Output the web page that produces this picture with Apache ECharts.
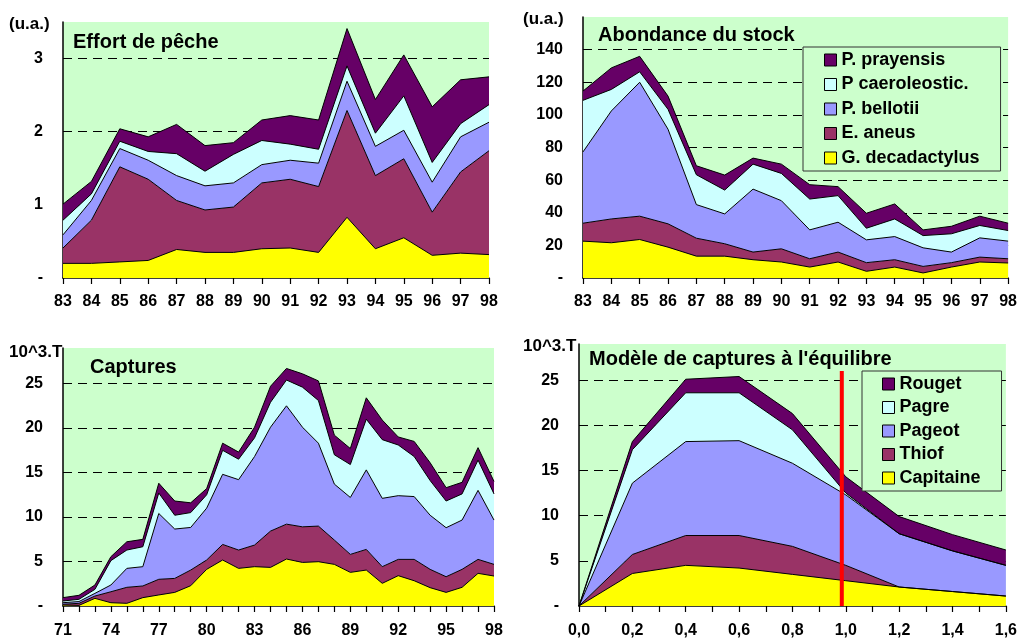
<!DOCTYPE html>
<html>
<head>
<meta charset="utf-8">
<script src="https://cdn.jsdelivr.net/npm/echarts@6/dist/echarts.min.js"></script>
<style>
  html, body { margin: 0; padding: 0; background: #fff; }
  #chart { width: 1020px; height: 642px; }
</style>
</head>
<body>
<div id="chart"></div>
<script>
// --- data ---
const years8398 = ['83','84','85','86','87','88','89','90','91','92','93','94','95','96','97','98'];
const years7198 = ['71','72','73','74','75','76','77','78','79','80','81','82','83','84','85','86','87','88','89','90','91','92','93','94','95','96','97','98'];
const effortX = [0, 0.2, 0.4, 0.6, 0.8, 1.0, 1.2, 1.4, 1.6];

const speciesNames = ['G. decadactylus', 'E. aneus', 'P. bellotii', 'P caeroleostic.', 'P. prayensis'];
const modelNames = ['Capitaine', 'Thiof', 'Pageot', 'Pagre', 'Rouget'];
const colors = ['#FFFF00', '#993366', '#9999FF', '#CCFFFF', '#660066'];

// Effort de pêche (u.a.)
const effortDecadactylus = [0.20,0.20,0.22,0.24,0.39,0.35,0.35,0.40,0.41,0.35,0.83,0.40,0.55,0.31,0.34,0.32];
const effortAneus        = [0.21,0.59,1.30,1.11,0.67,0.58,0.62,0.90,0.94,0.90,1.46,1.00,1.08,0.59,1.11,1.42];
const effortBellotii     = [0.18,0.27,0.25,0.26,0.34,0.33,0.33,0.25,0.26,0.32,0.40,0.40,0.39,0.41,0.48,0.39];
const effortCaeroleostic = [0.20,0.09,0.10,0.12,0.30,0.20,0.39,0.33,0.22,0.19,0.21,0.18,0.47,0.27,0.18,0.24];
const effortPrayensis    = [0.22,0.17,0.17,0.20,0.40,0.35,0.16,0.28,0.39,0.40,0.51,0.46,0.56,0.76,0.60,0.38];

// Abondance du stock (u.a.)
const stockDecadactylus = [22.6,21.6,23.6,18.9,13.4,13.4,11.2,9.8,6.7,9.8,4.1,6.7,3.1,6.7,9.8,9.2];
const stockAneus        = [11.0,14.6,14.3,14.3,11.0,7.6,4.7,8.1,5.1,6.1,5.3,4.5,4.0,2.7,3.0,2.6];
const stockBellotii     = [43.7,66.2,82.1,58.0,20.6,18.3,38.6,29.5,17.7,18.3,14.0,14.2,11.4,6.5,11.8,10.8];
const stockCaeroleostic = [31.6,13.2,6.4,12.2,18.3,14.6,15.3,16.7,18.9,16.3,7.1,10.8,7.5,11.2,7.6,6.5];
const stockPrayensis    = [5.7,13.2,9.5,8.1,5.5,9.2,3.7,5.7,8.8,5.5,9.2,9.2,3.5,4.6,5.7,4.5];

// Captures (10^3.T)
const catchDecadactylus = [0.10,0.07,0.86,0.37,0.30,0.94,1.24,1.53,2.28,4.12,5.17,4.23,4.42,4.34,5.28,4.90,4.98,4.68,3.78,4.04,2.55,3.41,2.84,2.06,1.53,2.10,3.67,3.37];
const catchAneus        = [0.10,0.23,0.26,1.23,1.80,1.31,1.76,1.57,1.76,1.05,1.75,2.06,2.43,4.08,3.92,4.00,4.00,2.73,2.02,2.32,1.87,1.83,2.40,2.06,1.76,2.02,1.57,1.31];
const catchBellotii     = [0.17,0.20,0.30,0.76,2.13,2.17,7.40,5.55,4.79,5.83,7.88,7.91,9.95,11.68,13.30,11.20,9.32,6.29,6.40,8.94,7.68,7.16,7.06,6.08,5.51,5.54,7.76,4.98];
const catchCaeroleostic = [0.19,0.25,0.45,2.74,2.06,2.24,2.30,1.55,1.67,1.50,2.70,2.30,2.10,2.80,2.90,4.50,4.80,3.30,3.70,5.70,6.60,5.70,4.50,3.90,3.00,2.94,3.40,2.94];
const catchPrayensis    = [0.38,0.45,0.49,0.44,0.93,0.83,1.10,1.60,1.10,0.70,0.80,0.80,1.20,1.80,1.30,1.50,2.20,2.20,1.80,2.40,2.20,0.90,1.70,2.00,1.50,1.30,1.40,1.40];

// Modèle de captures à l'équilibre (10^3.T)
const modelCapitaine = [0,3.6,4.5,4.2,3.5,2.8,2.1,1.6,1.1];
const modelThiof     = [0,2.1,3.3,3.6,3.1,1.7,0,0,0];
const modelPageot    = [0,7.9,10.4,10.5,9.2,7.8,5.9,4.5,3.4];
const modelPagre     = [0,3.7,5.4,5.3,3.7,0.2,0,0,0];
const modelRouget    = [0,0.9,1.5,1.8,1.8,1.8,1.9,1.8,1.7];
const currentEffort = [[0.985, 0], [0.985, 26]];

// --- chart ---
const FONT = '"Liberation Sans", Arial, sans-serif';

function areaSeries(name, color, data, xi, yi) {
  return {
    type: 'line', name: name, data: data,
    xAxisIndex: xi, yAxisIndex: yi, stack: 'st' + yi,
    symbol: 'none', showSymbol: false,
    lineStyle: { color: '#000', width: 1 },
    itemStyle: { color: color },
    areaStyle: { color: color, opacity: 1 },
    emphasis: { disabled: true },
    silent: true
  };
}

function xCat(idx, data, labelInterval, margin) {
  return {
    type: 'category', gridIndex: idx, data: data, boundaryGap: false, position: 'bottom',
    axisLine: { lineStyle: { color: '#000', width: 1.5 } },
    axisTick: { show: true, interval: 0, length: 6, lineStyle: { color: '#000', width: 1.2 } },
    axisLabel: { interval: labelInterval, color: '#000', fontWeight: 'bold', fontSize: 16, fontFamily: FONT, margin: margin },
    splitLine: { show: false }
  };
}

function yVal(idx, max, interval) {
  return {
    type: 'value', gridIndex: idx, min: 0, max: max, interval: interval,
    axisLine: { show: true, lineStyle: { color: '#000', width: 1.5 } },
    axisTick: { show: false },
    axisLabel: {
      color: '#000', fontWeight: 'bold', fontSize: 16, fontFamily: FONT, margin: 20,
      showMaxLabel: false,
      formatter: function (v) {
        if (v === 0) return '-';
        return (Math.abs(v / interval - Math.round(v / interval)) < 1e-6) ? String(v) : '';
      }
    },
    splitLine: { show: true, showMinLine: false, showMaxLine: false, lineStyle: { color: '#000', width: 1.2, type: [9, 6] } }
  };
}

function txt(text, x, y, size) {
  return {
    type: 'text', x: x, y: y, z: 100,
    style: { text: text, font: 'bold ' + size + 'px ' + FONT, fill: '#000', align: 'left', verticalAlign: 'middle' }
  };
}

const gridBase = { show: true, backgroundColor: '#CCFFCC', borderWidth: 0, containLabel: false };

const series = [];
const effortSets = [effortDecadactylus, effortAneus, effortBellotii, effortCaeroleostic, effortPrayensis];
const stockSets = [stockDecadactylus, stockAneus, stockBellotii, stockCaeroleostic, stockPrayensis];
const catchSets = [catchDecadactylus, catchAneus, catchBellotii, catchCaeroleostic, catchPrayensis];
const modelSets = [modelCapitaine, modelThiof, modelPageot, modelPagre, modelRouget];

effortSets.forEach((d, i) => series.push(areaSeries(speciesNames[i], colors[i], d, 0, 0)));
stockSets.forEach((d, i) => series.push(areaSeries(speciesNames[i], colors[i], d, 1, 1)));
catchSets.forEach((d, i) => series.push(areaSeries(speciesNames[i], colors[i], d, 2, 2)));
// model areas stacked on a hidden category axis whose points sit on the visible 0..1.6 value axis
modelSets.forEach((d, i) => series.push(areaSeries(modelNames[i], colors[i], d, 3, 3)));

series.push({
  type: 'line', name: 'effort actuel', xAxisIndex: 4, yAxisIndex: 3,
  data: currentEffort, symbol: 'none', z: 10, silent: true,
  lineStyle: { color: '#FF0000', width: 4 }
});

const legendBase = {
  orient: 'vertical', icon: 'rect', itemWidth: 12, itemHeight: 12,
  backgroundColor: '#CCFFCC', borderColor: '#333', borderWidth: 1, borderRadius: 0,
  itemStyle: { borderColor: '#000', borderWidth: 1 },
  textStyle: { color: '#000', fontWeight: 'bold', fontSize: 18, fontFamily: FONT },
  selectedMode: false
};

const option = {
  animation: false,
  backgroundColor: '#fff',
  grid: [
    Object.assign({ left: 63, top: 22, width: 426, height: 256 }, gridBase),
    Object.assign({ left: 583, top: 17, width: 426, height: 261 }, gridBase),
    Object.assign({ left: 63, top: 348, width: 431, height: 258 }, gridBase),
    Object.assign({ left: 579, top: 344, width: 427, height: 262 }, gridBase)
  ],
  xAxis: [
    xCat(0, years8398, 0, 16),
    xCat(1, years8398, 0, 16),
    xCat(2, years7198, 2, 17),
    { type: 'category', gridIndex: 3, position: 'top', data: effortX.map(String), boundaryGap: false, show: false },
    {
      type: 'value', gridIndex: 3, position: 'bottom', min: 0, max: 1.6, interval: 0.2,
      axisLine: { lineStyle: { color: '#000', width: 1.5 } },
      axisTick: { show: true, length: 6, lineStyle: { color: '#000', width: 1.2 } },
      minorTick: { show: true, splitNumber: 2, length: 6, lineStyle: { color: '#000', width: 1.2 } },
      axisLabel: {
        color: '#000', fontWeight: 'bold', fontSize: 16, fontFamily: FONT, margin: 17,
        formatter: v => v.toFixed(1).replace('.', ',')
      },
      splitLine: { show: false }
    }
  ],
  yAxis: [
    yVal(0, 3.5, 1),
    yVal(1, 160, 20),
    yVal(2, 29, 5),
    yVal(3, 29, 5)
  ],
  legend: [
    Object.assign({
      left: 803, top: 47, itemGap: 6.5, padding: [4, 21, 4, 21],
      data: ['P. prayensis', 'P caeroleostic.', 'P. bellotii', 'E. aneus', 'G. decadactylus']
    }, legendBase),
    Object.assign({
      left: 862, top: 371, itemGap: 5.5, padding: [4, 21, 4, 20],
      data: ['Rouget', 'Pagre', 'Pageot', 'Thiof', 'Capitaine']
    }, legendBase)
  ],
  graphic: [
    txt('(u.a.)', 9, 24, 17),
    txt('Effort de pêche', 73, 42, 20),
    txt('(u.a.)', 523, 19, 17),
    txt('Abondance du stock', 598, 35, 20),
    txt('10^3.T', 9, 352, 17),
    txt('Captures', 90, 367, 20),
    txt('10^3.T', 523, 346, 17),
    txt("Modèle de captures à l'équilibre", 589, 359, 20)
  ],
  series: series
};

const myChart = echarts.init(document.getElementById('chart'), null, { renderer: 'canvas' });
myChart.setOption(option);
</script>
</body>
</html>
